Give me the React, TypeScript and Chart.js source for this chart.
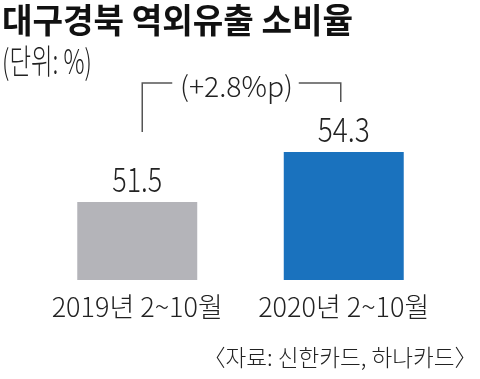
import React, { useEffect, useRef } from "react";
import { Chart, registerables } from "chart.js";
Chart.register(...registerables);

const categories = ["2019년 2~10월", "2020년 2~10월"];
const values = [51.5, 54.3];
const valueLabels = ["51.5", "54.3"];
const barColors = ["#b4b4b9", "#1a72be"];
const titleText = "대구경북 역외유출 소비율";
const unitText = "(단위: %)";
const diffText = "(+2.8%p)";
const sourceText = "〈자료: 신한카드, 하나카드〉";
const yMin = 47.13;
const yMax = 62.81;

const FONT = "'Noto Sans CJK KR', 'Noto Sans', sans-serif";

function drawFit(
  ctx: CanvasRenderingContext2D,
  text: string,
  x: number,
  y: number,
  font: string,
  width: number,
  align: "left" | "center" | "right",
  color: string
) {
  ctx.save();
  ctx.font = font;
  const w = ctx.measureText(text).width;
  const s = width / w;
  const left = align === "left" ? x : align === "center" ? x - width / 2 : x - width;
  ctx.textBaseline = "alphabetic";
  ctx.textAlign = "left";
  ctx.fillStyle = color;
  ctx.translate(left, y);
  ctx.scale(s, 1);
  ctx.fillText(text, 0, 0);
  ctx.restore();
}

const overlayPlugin = {
  id: "overlay",
  beforeDraw(chart: any) {
    const ctx = chart.ctx;
    ctx.save();
    ctx.fillStyle = "#ffffff";
    ctx.fillRect(0, 0, chart.width, chart.height);
    ctx.restore();
  },
  afterDraw(chart: any) {
    const ctx: CanvasRenderingContext2D = chart.ctx;
    const meta = chart.getDatasetMeta(0);
    const b0 = meta.data[0];
    const b1 = meta.data[1];
    const txt = "#222222";

    drawFit(ctx, titleText, 2, 32.5, `bold 34px ${FONT}`, 351, "left", "#111111");
    drawFit(ctx, unitText, 2, 74, `300 34px ${FONT}`, 90, "left", txt);

    // value labels
    drawFit(ctx, valueLabels[0], b0.x, b0.y - 10, `300 34px ${FONT}`, 50, "center", txt);
    drawFit(ctx, valueLabels[1], b1.x, b1.y - 10, `300 34px ${FONT}`, 52, "center", txt);

    // difference bracket
    const topY = 83;
    const lx = b0.x + 5;
    const rx = b1.x - 3;
    ctx.save();
    ctx.strokeStyle = "#555555";
    ctx.lineWidth = 1.5;
    ctx.beginPath();
    ctx.moveTo(lx, b0.y - 70);
    ctx.lineTo(lx, topY);
    ctx.lineTo(lx + 30, topY);
    ctx.moveTo(rx - 42, topY);
    ctx.lineTo(rx, topY);
    ctx.lineTo(rx, b1.y - 50);
    ctx.stroke();
    ctx.restore();
    drawFit(ctx, diffText, 180, 97, `300 28px ${FONT}`, 113, "left", txt);

    drawFit(ctx, sourceText, 203, 366, `300 23px ${FONT}`, 274, "left", txt);
  },
};

export default function App() {
  const ref = useRef<HTMLCanvasElement>(null);
  useEffect(() => {
    if (!ref.current) return;
    const chart = new Chart(ref.current, {
      type: "bar",
      data: {
        labels: categories,
        datasets: [
          {
            data: values,
            backgroundColor: barColors,
            borderWidth: 0,
            barPercentage: 0.581,
            categoryPercentage: 1,
          },
        ],
      },
      options: {
        responsive: false,
        animation: false,
        layout: { padding: { left: 34, right: 33, top: 0, bottom: 0 } },
        plugins: { legend: { display: false }, tooltip: { enabled: false }, title: { display: false } },
        scales: {
          x: {
            grid: { display: false, drawTicks: false },
            border: { display: false },
            ticks: {
              color: "#222222",
              font: { family: FONT, size: 27, weight: "300" },
              padding: 11,
              maxRotation: 0,
              autoSkip: false,
            },
            afterFit: (s: any) => {
              s.height = 99;
            },
          },
          y: { display: false, min: yMin, max: yMax },
        },
      },
      plugins: [overlayPlugin],
    });
    return () => chart.destroy();
  }, []);
  return (
    <div style={{ position: "absolute", left: 0, top: 0, width: 480, height: 379, background: "#fff" }}>
      <canvas ref={ref} width={480} height={379} />
    </div>
  );
}
